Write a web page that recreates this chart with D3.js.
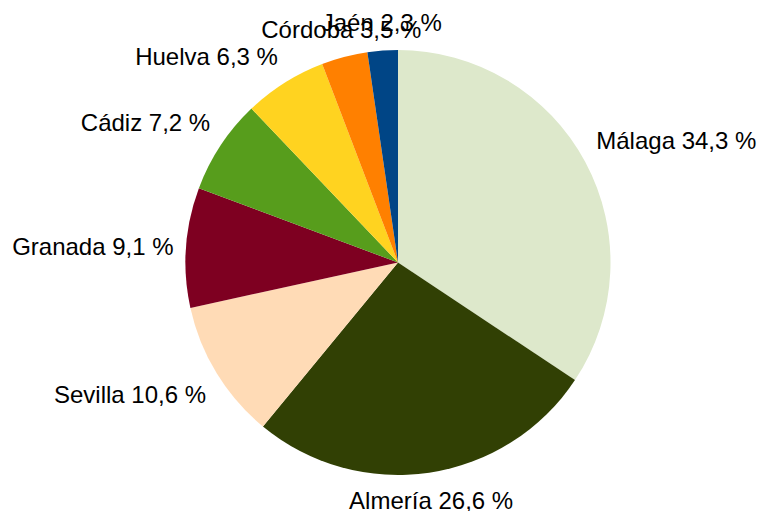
<!DOCTYPE html>
<html lang="es">
<head>
    <meta charset="UTF-8">
    <script src="https://cdn.jsdelivr.net/npm/d3@7"></script>
    <title>Provincias</title>
    <style>
        body { margin: 0; background: #fff; }
        svg text { font-family: "Liberation Sans", Arial, sans-serif; font-size: 24px; fill: #000; }
    </style>
</head>
<body>
    <script>
        const w = 759;
        const h = 511;
        const cx = 398;
        const cy = 262.5;
        const radius = 212.5;
        const labelRadius = 225;

        // data, clockwise from 12 o'clock
        const provincias = ["Málaga", "Almería", "Sevilla", "Granada", "Cádiz", "Huelva", "Córdoba", "Jaén"];
        const porcentajes = [34.3, 26.6, 10.6, 9.1, 7.2, 6.3, 3.5, 2.3];
        const colores = ["#dde8cb", "#314004", "#ffdbb6", "#7e0021", "#579d1c", "#ffd320", "#ff8000", "#004586"];

        const data = provincias.map((p, i) => ({ name: p, value: porcentajes[i], color: colores[i] }));

        const svg = d3.select("body")
                        .append("svg")
                        .attr("width", w)
                        .attr("height", h);

        const pie = d3.pie()
                        .value(d => d.value)
                        .sort(null);

        const arc = d3.arc()
                        .innerRadius(0)
                        .outerRadius(radius);

        const g = svg.append("g")
                        .attr("transform", "translate(" + cx + "," + cy + ")");

        const arcs = pie(data);

        g.selectAll("path")
            .data(arcs)
            .enter()
            .append("path")
            .attr("d", arc)
            .attr("fill", d => d.data.color);

        //labels outside the pie, aligned by where they sit around it
        g.selectAll("text")
            .data(arcs)
            .enter()
            .append("text")
            .attr("x", d => labelRadius * Math.sin((d.startAngle + d.endAngle) / 2))
            .attr("y", d => -labelRadius * Math.cos((d.startAngle + d.endAngle) / 2))
            .attr("text-anchor", d => {
                const s = Math.sin((d.startAngle + d.endAngle) / 2);
                return s > 0.35 ? "start" : (s < -0.35 ? "end" : "middle");
            })
            .attr("dy", d => {
                const c = Math.cos((d.startAngle + d.endAngle) / 2);
                return c > 0.35 ? "-0.3em" : (c < -0.35 ? "0.98em" : "0.35em");
            })
            .text(d => d.data.name + " " + d.data.value.toFixed(1).replace(".", ",") + " %");
    </script>
</body>
</html>
